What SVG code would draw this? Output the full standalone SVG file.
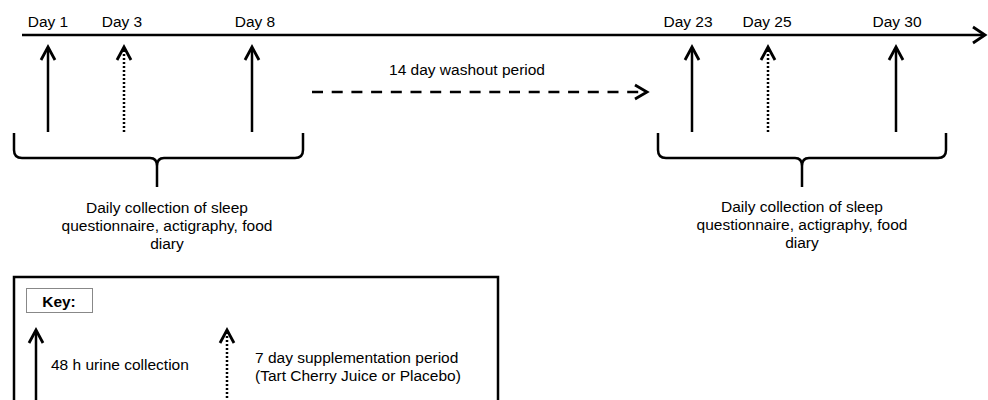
<svg xmlns="http://www.w3.org/2000/svg" width="988" height="400" viewBox="0 0 988 400">
<style>
  text { font-family: "Liberation Sans", Arial, sans-serif; font-size: 15.5px; fill: #000; }
  .c { text-anchor: middle; }
  .solid { stroke: #000; stroke-width: 2.5; fill: none; }
  .dot { stroke: #000; stroke-width: 2.5; fill: none; stroke-dasharray: 2 2; }
  .head { stroke: #000; stroke-width: 2.8; fill: none; stroke-linejoin: miter; }
  .brace { stroke: #000; stroke-width: 2.5; fill: none; }
</style>
<rect width="988" height="400" fill="#fff"/>

<g id="timeline">
  <line x1="22" y1="35" x2="984" y2="35" class="solid"/>
  <polyline points="973,27 985,35 973,43" class="head"/>
  <text x="48" y="27" class="c">Day 1</text>
  <text x="122" y="27" class="c">Day 3</text>
  <text x="255" y="27" class="c">Day 8</text>
  <text x="688" y="27" class="c">Day 23</text>
  <text x="767" y="27" class="c">Day 25</text>
  <text x="897" y="27" class="c">Day 30</text>
</g>

<g id="connectors">
  <g id="day1-arrow"><line x1="48" y1="132" x2="48" y2="49" class="solid"/><polyline points="41,60 48,47 55,60" class="head"/></g>
  <g id="day3-arrow"><line x1="124" y1="132" x2="124" y2="50" class="dot"/><polyline points="117,60 124,47 131,60" class="head"/></g>
  <g id="day8-arrow"><line x1="252" y1="132" x2="252" y2="49" class="solid"/><polyline points="245,60 252,47 259,60" class="head"/></g>
  <g id="day23-arrow"><line x1="692" y1="132" x2="692" y2="49" class="solid"/><polyline points="685,60 692,47 699,60" class="head"/></g>
  <g id="day25-arrow"><line x1="768" y1="132" x2="768" y2="50" class="dot"/><polyline points="761,60 768,47 775,60" class="head"/></g>
  <g id="day30-arrow"><line x1="896" y1="132" x2="896" y2="49" class="solid"/><polyline points="889,60 896,47 903,60" class="head"/></g>
  <g id="washout-arrow">
    <line x1="312" y1="92" x2="640" y2="92" stroke="#000" stroke-width="2.5" stroke-dasharray="11 8.7"/>
    <polyline points="635,85 647,92 635,99" class="head"/>
  </g>
</g>

<g id="washout-label">
  <text x="467" y="75" class="c">14 day washout period</text>
</g>

<g id="brace-left">
  <path class="brace" d="M14,133 V150 Q14,158 22,158 H150 Q157,158 157,166 V187 M157,166 Q157,158 164,158 H295 Q303,158 303,150 V133"/>
  <text x="167" y="213" class="c">Daily collection of sleep</text>
  <text x="167" y="231" class="c">questionnaire, actigraphy, food</text>
  <text x="167" y="249" class="c">diary</text>
</g>

<g id="brace-right">
  <path class="brace" d="M658,133 V150 Q658,158 666,158 H795 Q802,158 802,166 V187 M802,166 Q802,158 809,158 H938 Q946,158 946,150 V133"/>
  <text x="802" y="212" class="c">Daily collection of sleep</text>
  <text x="802" y="230" class="c">questionnaire, actigraphy, food</text>
  <text x="802" y="248" class="c">diary</text>
</g>

<g id="key">
  <rect x="14" y="277" width="484" height="140" fill="none" stroke="#000" stroke-width="2.5"/>
  <rect x="26.5" y="288.5" width="66" height="24" fill="#fff" stroke="#888" stroke-width="1"/>
  <text x="59" y="307" class="c" font-weight="bold">Key:</text>
  <line x1="36" y1="410" x2="36" y2="332" class="solid"/>
  <polyline points="29,343 36,330 43,343" class="head"/>
  <text x="51" y="370">48 h urine collection</text>
  <line x1="227" y1="410" x2="227" y2="333" class="dot"/>
  <polyline points="220,343 227,330 234,343" class="head"/>
  <text x="255" y="363">7 day supplementation period</text>
  <text x="255" y="381">(Tart Cherry Juice or Placebo)</text>
</g>
</svg>
